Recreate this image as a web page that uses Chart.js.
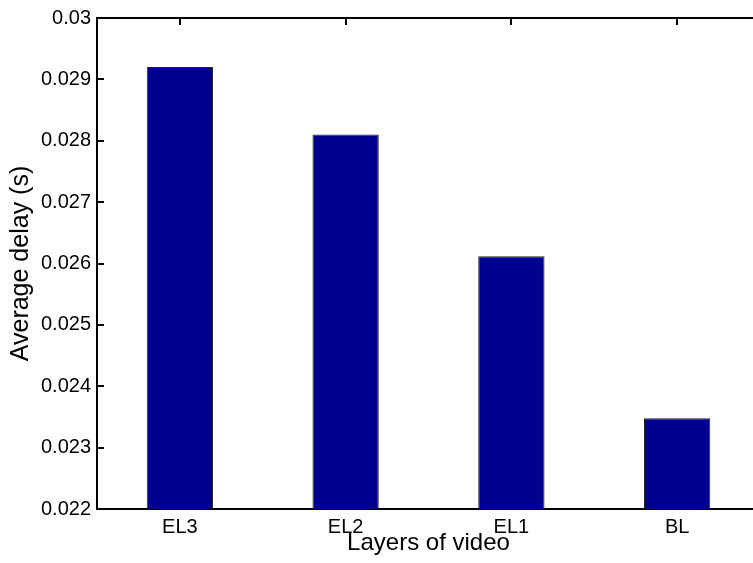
<!DOCTYPE html>
<html>
<head>
<meta charset="utf-8">
<script src="https://cdn.jsdelivr.net/npm/chart.js@4.4.1/dist/chart.umd.min.js"></script>
<style>
  html, body { margin: 0; padding: 0; background: #fff; overflow: hidden; width: 753px; height: 563px; }
  #wrap { width: 765px; height: 563px; }
</style>
</head>
<body>
<div id="wrap"><canvas id="c" width="765" height="563"></canvas></div>
<script>
const categories = ['EL3', 'EL2', 'EL1', 'BL'];
const avgDelay = [0.0292, 0.0281, 0.02612, 0.02348];
const yTickValues = [0.022, 0.023, 0.024, 0.025, 0.026, 0.027, 0.028, 0.029, 0.03];
const yTickLabels = ['0.022', '0.023', '0.024', '0.025', '0.026', '0.027', '0.028', '0.029', '0.03'];
const xTitle = 'Layers of video';
const yTitle = 'Average delay (s)';

const FONT = '"Liberation Sans", Arial, Helvetica, sans-serif';

const matlabAxes = {
  id: 'matlabAxes',
  afterDatasetsDraw(chart) {
    const {ctx, chartArea: a, scales: {x, y}} = chart;
    ctx.save();
    ctx.strokeStyle = '#000';
    ctx.lineWidth = 2;
    ctx.lineCap = 'butt';
    // top box line
    ctx.beginPath();
    ctx.moveTo(a.left - 1, a.top);
    ctx.lineTo(a.right + 1, a.top);
    ctx.stroke();
    // right box line
    ctx.beginPath();
    ctx.moveTo(a.right, a.top);
    ctx.lineTo(a.right, a.bottom);
    ctx.stroke();
    // inward y ticks (left and right)
    y.ticks.forEach((t, i) => {
      const py = Math.round(y.getPixelForTick(i));
      ctx.beginPath();
      ctx.moveTo(a.left, py);
      ctx.lineTo(a.left + 7, py);
      ctx.moveTo(a.right, py);
      ctx.lineTo(a.right - 7, py);
      ctx.stroke();
    });
    // inward x ticks on top axis
    x.ticks.forEach((t, i) => {
      const px = Math.round(x.getPixelForTick(i));
      ctx.beginPath();
      ctx.moveTo(px, a.top);
      ctx.lineTo(px, a.top + 7);
      ctx.stroke();
    });
    ctx.restore();
  }
};

new Chart(document.getElementById('c'), {
  type: 'bar',
  data: {
    labels: categories,
    datasets: [{
      data: avgDelay,
      backgroundColor: '#00008F',
      borderColor: '#2a2a2a',
      borderWidth: 1,
      categoryPercentage: 1.0,
      barPercentage: 0.4
    }]
  },
  options: {
    responsive: false,
    animation: false,
    devicePixelRatio: 1,
    layout: { padding: { left: 0, top: 17, right: 5, bottom: 0 } },
    plugins: { legend: { display: false }, tooltip: { enabled: false } },
    scales: {
      x: {
        grid: { display: false, drawTicks: false },
        border: { display: true, color: '#000', width: 2 },
        ticks: { color: '#000', font: { family: FONT, size: 20 }, padding: 6 },
        title: { display: true, text: xTitle, color: '#000', font: { family: FONT, size: 24 }, padding: { top: 0, bottom: 5 } },
        afterFit(scale) { scale.height = 54; }
      },
      y: {
        min: 0.022,
        max: 0.03,
        afterBuildTicks(scale) { scale.ticks = yTickValues.map(v => ({ value: v })); },
        grid: { display: false, drawTicks: false },
        border: { display: true, color: '#000', width: 2 },
        ticks: {
          color: '#000',
          font: { family: FONT, size: 20 },
          padding: 6,
          callback(value, index) { return yTickLabels[index]; }
        },
        title: { display: true, text: yTitle, color: '#000', font: { family: FONT, size: 25 }, padding: { top: 6, bottom: 0 } },
        afterFit(scale) { scale.width = 97; }
      }
    }
  },
  plugins: [matlabAxes]
});
</script>
</body>
</html>
